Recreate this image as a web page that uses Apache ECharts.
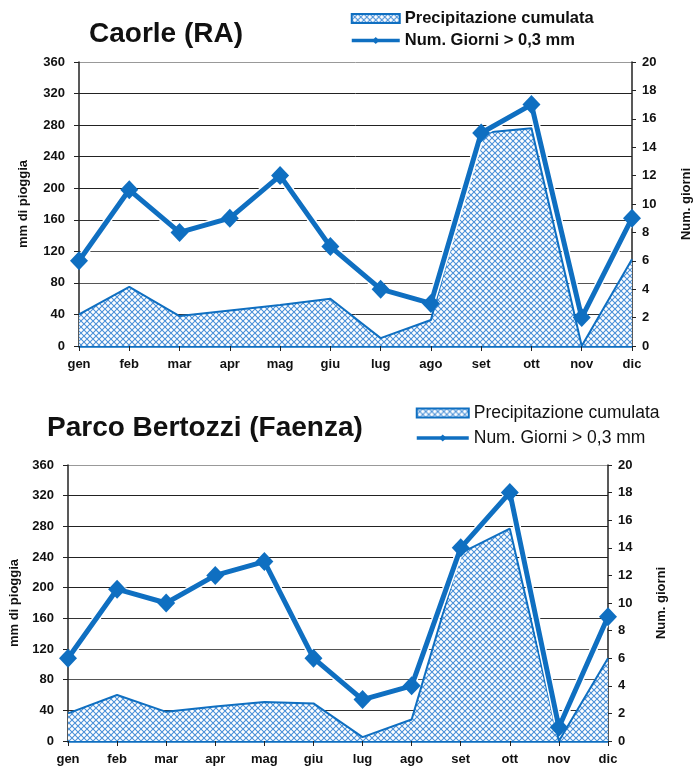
<!DOCTYPE html>
<html>
<head>
<meta charset="utf-8">
<script src="https://cdn.jsdelivr.net/npm/echarts@6/dist/echarts.min.js"></script>
<style>
  html, body { margin: 0; padding: 0; background: #fff; }
  #chart { width: 695px; height: 767px; }
</style>
</head>
<body>
<div id="chart"></div>
<script>
// Months on the category axis
const months = ['gen', 'feb', 'mar', 'apr', 'mag', 'giu', 'lug', 'ago', 'set', 'ott', 'nov', 'dic'];

// Caorle (RA)
const caorleRain = [40, 75, 38, 45, 52, 60, 10, 33, 270, 276, 0, 110];   // mm
const caorleDays = [6, 11, 8, 9, 12, 7, 4, 3, 15, 17, 2, 9];            // days > 0,3 mm

// Parco Bertozzi (Faenza)
const faenzaRain = [36, 60, 38, 45, 51, 49, 5, 28, 245, 277, 0, 108];
const faenzaDays = [6, 11, 10, 12, 13, 6, 3, 4, 14, 18, 1, 9];

const rainName = 'Precipitazione cumulata';
const daysName = 'Num. Giorni > 0,3 mm';
const blue = '#0f6fc1';
const font = '"Liberation Sans", Arial, sans-serif';

// Cross-hatch fill for the rainfall area
function hatch() {
  const c = document.createElement('canvas');
  c.width = 6; c.height = 6;
  const g = c.getContext('2d');
  g.fillStyle = '#ffffff';
  g.fillRect(0, 0, 6, 6);
  g.strokeStyle = '#4a90d8';
  g.lineWidth = 1.1;
  g.beginPath();
  g.moveTo(0, 0); g.lineTo(6, 6);
  g.moveTo(6, 0); g.lineTo(0, 6);
  g.stroke();
  return c;
}
const pattern = { image: hatch(), repeat: 'repeat' };

const grids = [
  { left: 79, right: 63, top: 62, height: 284, outerBoundsMode: 'none' },
  { left: 68, right: 87, top: 465, height: 276, outerBoundsMode: 'none' }
];

const labelStyle = { color: '#111', fontFamily: font, fontWeight: 'bold', fontSize: 13 };
const gridColors = ['#333', '#333', '#555', '#555', '#333', '#222', '#222', '#222', '#222', '#999'];

function xAxis(i) {
  return {
    type: 'category', gridIndex: i, data: months, boundaryGap: false,
    axisLine: { lineStyle: { color: blue, width: 2.5 } },
    axisTick: { show: true, alignWithLabel: true, length: 5, lineStyle: { color: '#222' } },
    axisLabel: Object.assign({ margin: 12 }, labelStyle)
  };
}
function leftAxis(i, gap) {
  return {
    type: 'value', gridIndex: i, min: 0, max: 360, interval: 40, position: 'left',
    name: 'mm di pioggia', nameLocation: 'middle', nameGap: gap, nameRotate: 90,
    nameTextStyle: labelStyle,
    axisLine: { show: true, lineStyle: { color: '#222', width: 1.5 } },
    axisTick: { show: true, length: 5, lineStyle: { color: '#222' } },
    axisLabel: Object.assign({ margin: 14 }, labelStyle),
    splitLine: { show: true, lineStyle: { color: gridColors, width: 1 } }
  };
}
function rightAxis(i, gap) {
  return {
    type: 'value', gridIndex: i, min: 0, max: 20, interval: 2, position: 'right',
    name: 'Num. giorni', nameLocation: 'middle', nameGap: gap, nameRotate: 90,
    nameTextStyle: labelStyle,
    axisLine: { show: true, lineStyle: { color: '#222', width: 1.5 } },
    axisTick: { show: true, length: 4, lineStyle: { color: '#222' } },
    axisLabel: Object.assign({ margin: 10 }, labelStyle),
    splitLine: { show: false }
  };
}

function areaSeries(i, data) {
  return {
    name: rainName, type: 'line', xAxisIndex: i, yAxisIndex: i * 2,
    data: data, symbol: 'none', z: 2,
    lineStyle: { color: blue, width: 2 },
    itemStyle: { color: pattern, borderColor: blue, borderWidth: 2 },
    areaStyle: { color: pattern, opacity: 1 }
  };
}
// white halo under the day-count line
function haloSeries(i, data) {
  return {
    name: daysName + ' ', type: 'line', xAxisIndex: i, yAxisIndex: i * 2 + 1,
    data: data, symbol: 'none', z: 3, silent: true,
    lineStyle: { color: '#ffffff', width: 8 }
  };
}
function daysSeries(i, data) {
  return {
    name: daysName, type: 'line', xAxisIndex: i, yAxisIndex: i * 2 + 1,
    data: data, symbol: 'diamond', symbolSize: [18, 19], z: 4,
    lineStyle: { color: blue, width: 5 },
    itemStyle: { color: blue }
  };
}

function legendData() {
  return [
    { name: rainName, icon: 'rect' },
    { name: daysName, lineStyle: { width: 3.5 } }
  ];
}

const chart = echarts.init(document.getElementById('chart'), null, { renderer: 'canvas' });
chart.setOption({
  animation: false,
  backgroundColor: '#fff',
  title: [
    { text: 'Caorle (RA)', left: 84, top: 15,
      textStyle: { fontFamily: font, fontSize: 28, fontWeight: 'bold', color: '#111' } },
    { text: 'Parco Bertozzi (Faenza)', left: 42, top: 409,
      textStyle: { fontFamily: font, fontSize: 28, fontWeight: 'bold', color: '#111' } }
  ],
  legend: [
    { left: 350, top: 10, orient: 'vertical', itemGap: 5, itemWidth: 48, itemHeight: 9,
      padding: 0, data: legendData(),
      textStyle: { fontFamily: font, fontSize: 16.5, fontWeight: 'bold', color: '#111', lineHeight: 17 } },
    { left: 415, top: 404, orient: 'vertical', itemGap: 7, itemWidth: 52, itemHeight: 9,
      padding: 0, data: legendData(),
      textStyle: { fontFamily: font, fontSize: 17.5, color: '#111', lineHeight: 17 } }
  ],
  grid: grids,
  xAxis: [xAxis(0), xAxis(1)],
  yAxis: [leftAxis(0, 49), rightAxis(0, 48), leftAxis(1, 39), rightAxis(1, 47)],
  series: [
    areaSeries(0, caorleRain), haloSeries(0, caorleDays), daysSeries(0, caorleDays),
    areaSeries(1, faenzaRain), haloSeries(1, faenzaDays), daysSeries(1, faenzaDays)
  ]
});
</script>
</body>
</html>
